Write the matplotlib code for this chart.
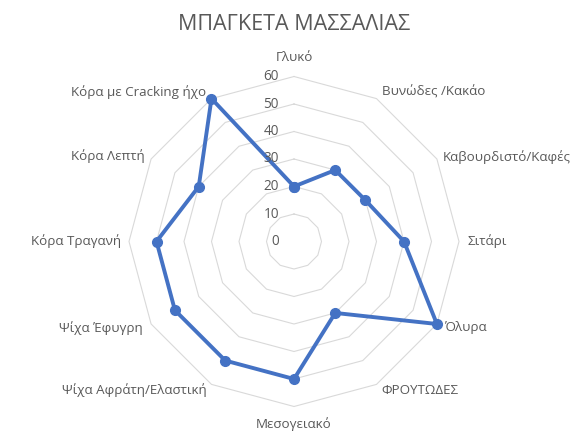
import numpy as np
import matplotlib
matplotlib.use("Agg")
import matplotlib.pyplot as plt

plt.rcParams['font.family'] = ['Open Sans', 'DejaVu Sans']

title = "ΜΠΑΓΚΕΤΑ ΜΑΣΣΑΛΙΑΣ"
categories = ["Γλυκό", "Βυνώδες /Κακάο", "Καβουρδιστό/Καφές", "Σιτάρι", "Όλυρα",
              "ΦΡΟΥΤΩΔΕΣ", "Μεσογειακό", "Ψίχα Αφράτη/Ελαστική", "Ψίχα Έφυγρη",
              "Κόρα Τραγανή", "Κόρα Λεπτή", "Κόρα με Cracking ήχο"]
values = [20, 30, 30, 40, 60, 30, 50, 50, 50, 50, 40, 60]
rticks = [0, 10, 20, 30, 40, 50, 60]

text_color = "#595959"
grid_color = "#d9d9d9"
line_color = "#4472C4"

fig = plt.figure(figsize=(5.76, 4.32), dpi=100)
W, H = 576, 432
cx, cy, R = 294, 241.5, 165
ax = fig.add_axes([(cx - R) / W, (H - cy - R) / H, 2 * R / W, 2 * R / H], projection='polar')
ax.set_theta_offset(np.pi / 2)
ax.set_theta_direction(-1)
ax.set_ylim(0, rticks[-1])
ax.grid(False)
ax.spines['polar'].set_visible(False)
ax.set_xticks([])
ax.set_yticks([])
ax.patch.set_alpha(0)

n = len(categories)
theta = np.arange(n) * 2 * np.pi / n
theta_closed = np.append(theta, theta[0])

for r in rticks[1:]:
    ax.plot(theta_closed, [r] * (n + 1), color=grid_color, lw=0.8, zorder=1, clip_on=False)

vals_closed = values + values[:1]
ax.plot(theta_closed, vals_closed, color=line_color, lw=2.8, marker='o', ms=7,
        zorder=3, clip_on=False)

# radial tick labels
for r in rticks:
    ax.annotate(str(r), xy=(0, r), xytext=(-15, 0), textcoords='offset pixels',
                ha='right', va='center', fontsize=9.8, color=text_color)

# category labels: offsets in pixels relative to outer vertex
offsets = [(0, 19, 'center'), (5, 7, 'left'), (6, 2, 'left'), (8, 0, 'left'),
           (7, -3, 'left'), (5, -6, 'left'), (0, -18, 'center'), (-5, -6, 'right'),
           (-8, -4, 'right'), (-8, 0, 'right'), (-6, 3, 'right'), (-5, 7, 'right')]
for t, lab, (dx, dy, ha) in zip(theta, categories, offsets):
    ax.annotate(lab, xy=(t, rticks[-1]), xytext=(dx, dy), textcoords='offset pixels',
                ha=ha, va='center', fontsize=9.6, color=text_color)

fig.text(cx / W, 1 - 24 / H, title, ha='center', va='center', fontsize=15.5, color=text_color)

fig.savefig("out.png", dpi=100)
